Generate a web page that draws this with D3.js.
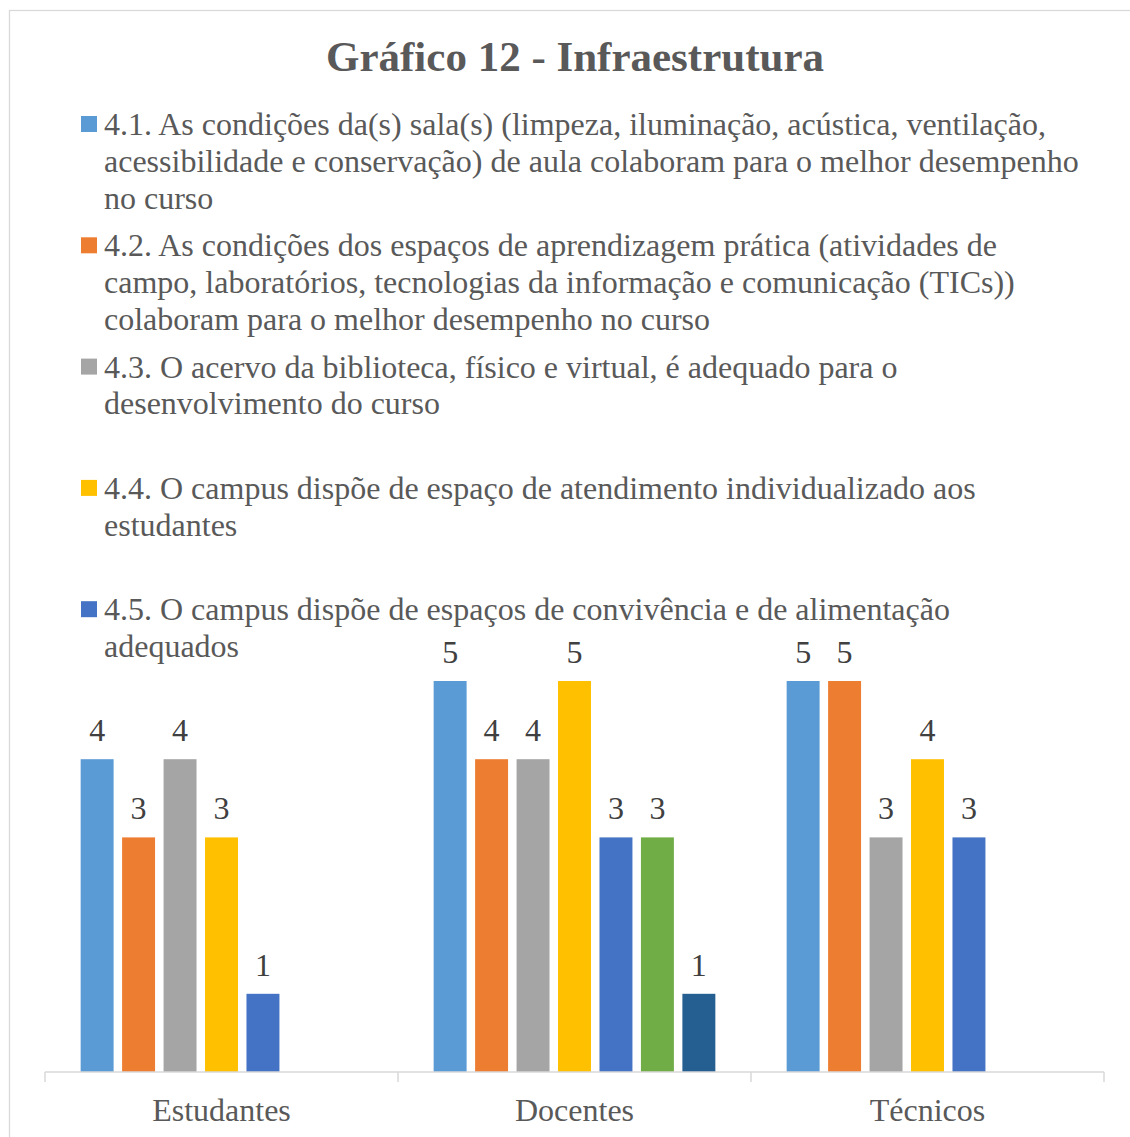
<!DOCTYPE html>
<html>
<head>
<meta charset="utf-8">
<script src="https://cdn.jsdelivr.net/npm/d3@7"></script>
<style>
  html, body { margin: 0; padding: 0; background: #fff; }
  svg { display: block; }
  text { font-family: "Liberation Serif", "Times New Roman", serif; }
</style>
</head>
<body>
<svg id="chart"></svg>
<script>
const categories = ["Estudantes", "Docentes", "Técnicos"];

const serie41 = [4, 5, 5];
const serie42 = [3, 4, 5];
const serie43 = [4, 4, 3];
const serie44 = [3, 5, 4];
const serie45 = [1, 3, 3];
const serie46 = [null, 3, null];
const serie47 = [null, 1, null];

const seriesNames = ["4.1", "4.2", "4.3", "4.4", "4.5", "4.6", "4.7"];
const seriesColors = ["#5B9BD5", "#ED7D31", "#A5A5A5", "#FFC000", "#4472C4", "#70AD47", "#255E91"];

const legendLabels = [
    "4.1. As condições da(s) sala(s) (limpeza, iluminação, acústica, ventilação,\nacessibilidade e conservação) de aula colaboram para o melhor desempenho\nno curso",
    "4.2. As condições dos espaços de aprendizagem prática (atividades de\ncampo, laboratórios, tecnologias da informação e comunicação (TICs))\ncolaboram para o melhor desempenho no curso",
    "4.3. O acervo da biblioteca, físico e virtual, é adequado para o\ndesenvolvimento do curso",
    "4.4. O campus dispõe de espaço de atendimento individualizado aos\nestudantes",
    "4.5. O campus dispõe de espaços de convivência e de alimentação\nadequados"
];

const title = "Gráfico 12 - Infraestrutura";
const yMax = 5;

const allSeries = [serie41, serie42, serie43, serie44, serie45, serie46, serie47];

const width = 1130, height = 1137;
const margin = { top: 681, right: 26, bottom: 65, left: 45 };

const svg = d3.select("#chart")
    .attr("width", width)
    .attr("height", height);

// chart frame
svg.append("rect")
    .attr("x", 9.5).attr("y", 10.5)
    .attr("width", 1140).attr("height", 1140)
    .attr("fill", "none")
    .attr("stroke", "#d9d9d9")
    .attr("stroke-width", 1.3);

svg.append("text")
    .attr("x", 575)
    .attr("y", 71)
    .attr("text-anchor", "middle")
    .attr("font-size", 43)
    .attr("font-weight", "bold")
    .attr("fill", "#595959")
    .text(title);

// legend
const legend = svg.append("g").attr("class", "legend");
legendLabels.forEach((label, i) => {
    const g = legend.append("g").attr("transform", `translate(81,${116 + i * 121.3})`);
    g.append("rect")
        .attr("width", 16).attr("height", 16)
        .attr("fill", seriesColors[i]);
    g.append("text")
        .attr("font-size", 32)
        .attr("fill", "#595959")
        .selectAll("tspan")
        .data(label.split("\n"))
        .enter()
        .append("tspan")
        .attr("x", 23)
        .attr("y", (d, j) => 19 + j * 36.9)
        .text(d => d);
});

const x0 = d3.scaleBand()
    .domain(categories)
    .range([margin.left, width - margin.right]);

const x1 = d3.scaleBand()
    .domain(seriesNames)
    .range([0, x0.bandwidth()])
    .paddingInner(0.205)
    .paddingOuter(0.86);

const y = d3.scaleLinear()
    .domain([0, yMax])
    .range([height - margin.bottom, margin.top]);

const barData = [];
allSeries.forEach((vals, s) => {
    vals.forEach((v, c) => {
        if (v !== null) barData.push({ cat: categories[c], series: seriesNames[s], color: seriesColors[s], value: v });
    });
});

const bars = svg.append("g");
bars.selectAll("rect")
    .data(barData)
    .enter()
    .append("rect")
    .attr("x", d => x0(d.cat) + x1(d.series))
    .attr("width", x1.bandwidth())
    .attr("y", d => y(d.value))
    .attr("height", d => y(0) - y(d.value))
    .attr("fill", d => d.color);

bars.selectAll("text.label")
    .data(barData)
    .enter()
    .append("text")
    .attr("class", "label")
    .attr("x", d => x0(d.cat) + x1(d.series) + x1.bandwidth() / 2)
    .attr("y", d => y(d.value) - 18)
    .attr("text-anchor", "middle")
    .attr("font-size", 32)
    .attr("fill", "#404040")
    .text(d => d.value);

// category axis
const axis = svg.append("g")
    .attr("transform", `translate(0,${y(0)})`);
axis.append("line")
    .attr("x1", margin.left).attr("x2", width - margin.right)
    .attr("stroke", "#d9d9d9").attr("stroke-width", 1.5);
const tickXs = categories.map(c => x0(c)).concat([x0(categories[categories.length - 1]) + x0.bandwidth()]);
axis.selectAll("line.tick")
    .data(tickXs)
    .enter()
    .append("line")
    .attr("class", "tick")
    .attr("x1", d => d).attr("x2", d => d)
    .attr("y1", 0).attr("y2", 10)
    .attr("stroke", "#d9d9d9").attr("stroke-width", 1.5);
axis.selectAll("text")
    .data(categories)
    .enter()
    .append("text")
    .attr("x", d => x0(d) + x0.bandwidth() / 2)
    .attr("y", 48.5)
    .attr("text-anchor", "middle")
    .attr("font-size", 32)
    .attr("fill", "#595959")
    .text(d => d);
</script>
</body>
</html>
